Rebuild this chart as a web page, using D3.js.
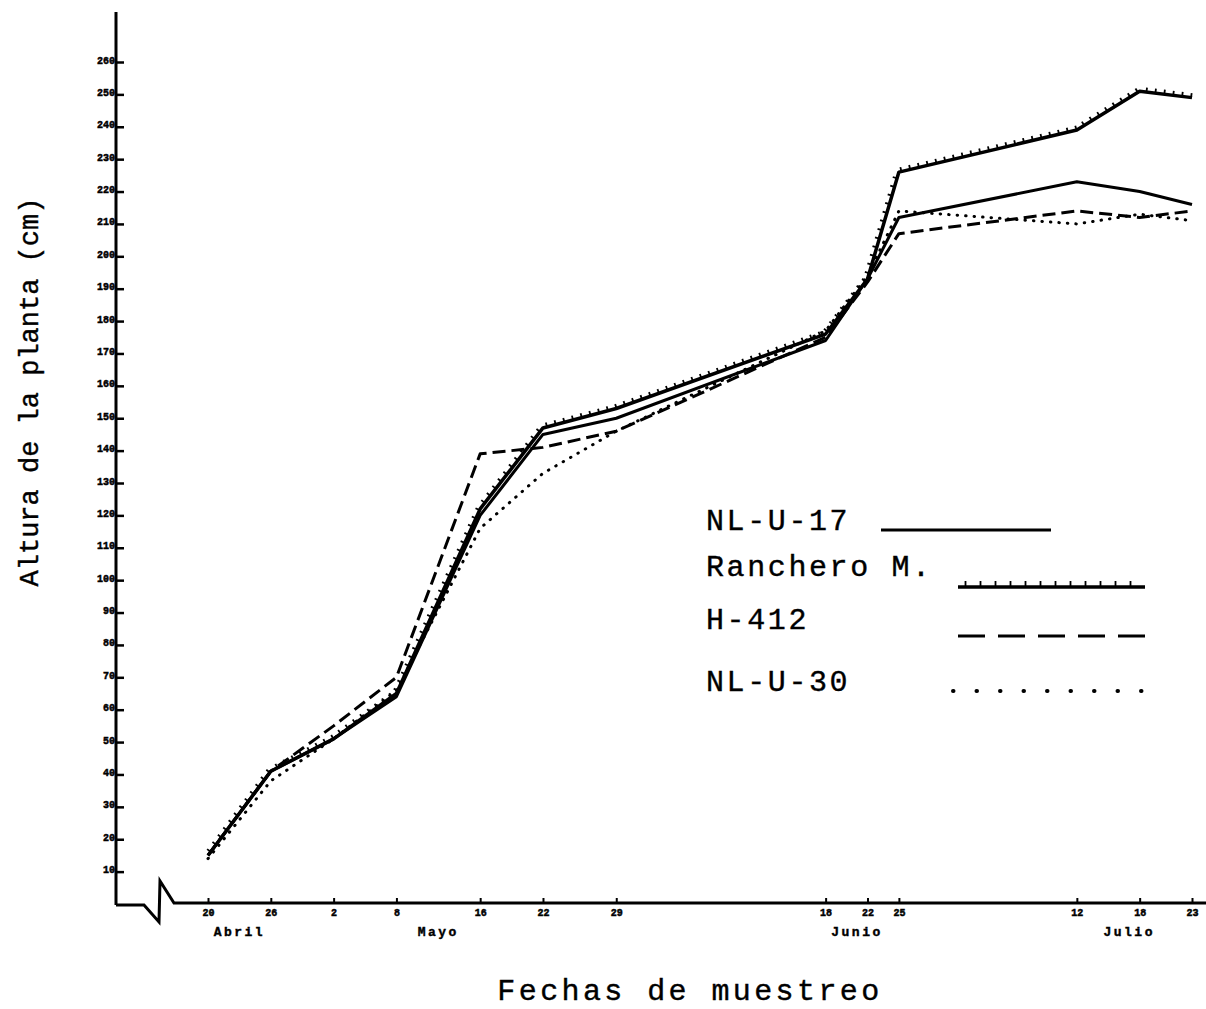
<!DOCTYPE html>
<html>
<head>
<meta charset="utf-8">
<script src="https://cdn.jsdelivr.net/npm/d3@7"></script>
<style>
  body { margin: 0; background: #fff; }
  svg { display: block; }
  text { font-family: "Liberation Mono", "DejaVu Sans Mono", monospace; fill: #000; }
</style>
</head>
<body>
<svg id="chart" width="1206" height="1009"></svg>
<script>
// fechas de muestreo
const sampleDates = ["1986-04-20", "1986-04-26", "1986-05-02", "1986-05-08", "1986-05-16", "1986-05-22",
  "1986-05-29", "1986-06-18", "1986-06-22", "1986-06-25", "1986-07-12", "1986-07-18", "1986-07-23"];

// altura de la planta (cm)
const nlu17    = [15, 41, 51, 64, 120, 145, 150, 174, 193, 212, 223, 220, 216];
const ranchero = [15, 41, 51, 65, 122, 147, 153, 176, 193, 226, 239, 251, 249];
const h412     = [15, 41, 55, 70, 139, 141, 146, 175, 192, 207, 214, 212, 214];
const nlu30    = [14, 38, 51, 66, 116, 133, 146, 177, 194, 214, 210, 213, 211];

const seriesNames = ["NL-U-17", "Ranchero M.", "H-412", "NL-U-30"];
const seriesValues = [nlu17, ranchero, h412, nlu30];

const yTicks = [10, 20, 30, 40, 50, 60, 70, 80, 90, 100, 110, 120, 130,
  140, 150, 160, 170, 180, 190, 200, 210, 220, 230, 240, 250, 260];

const monthNames = ["Abril", "Mayo", "Junio", "Julio"];
const monthCenters = ["1986-04-23", "1986-05-12", "1986-06-21", "1986-07-17"];

const parse = d3.timeParse("%Y-%m-%d");
const dates = sampleDates.map(parse);

const svg = d3.select("#chart");

const x0 = 116, y0 = 905;
const x = d3.scaleTime().domain(d3.extent(dates)).range([208, 1192]);
const y = d3.scaleLinear().domain([0, 260]).range([904, 62]);

// ejes
svg.append("line")
    .attr("x1", x0).attr("x2", x0)
    .attr("y1", 12).attr("y2", y0)
    .attr("stroke", "#000").attr("stroke-width", 3);

// eje x con corte
const brk = [[x0, y0], [x0 + 28, y0], [x0 + 43, y0 + 17], [x0 + 44, y0 - 24], [x0 + 58, y0 - 2], [1206, y0 - 2]];
svg.append("path")
    .attr("d", d3.line()(brk))
    .attr("fill", "none")
    .attr("stroke", "#000")
    .attr("stroke-width", 3)
    .attr("stroke-linejoin", "miter");

const yAxis = d3.axisLeft(y)
    .tickValues(yTicks)
    .tickSizeInner(-8)
    .tickSizeOuter(0)
    .tickPadding(1);

const gy = svg.append("g")
    .attr("transform", `translate(${x0},0)`)
    .attr("font-family", "DejaVu Sans Mono")
    .attr("font-size", 11.5)
    .attr("font-weight", "bold")
    .call(yAxis);
gy.select(".domain").remove();
gy.selectAll(".tick line").attr("stroke", "#000").attr("stroke-width", 2.5);
gy.selectAll(".tick text").attr("dy", "0.1em").attr("stroke", "#000").attr("stroke-width", 0.5);

const xAxis = d3.axisBottom(x)
    .tickValues(dates)
    .tickFormat(d3.timeFormat("%-d"))
    .tickSizeInner(-6)
    .tickSizeOuter(0)
    .tickPadding(5);

const gx = svg.append("g")
    .attr("transform", `translate(0,${y0 - 1})`)
    .attr("font-family", "DejaVu Sans Mono")
    .attr("font-size", 13)
    .attr("font-weight", "bold")
    .call(xAxis);
gx.select(".domain").remove();
gx.selectAll(".tick line").attr("stroke", "#000").attr("stroke-width", 2);
gx.selectAll(".tick text").attr("stroke", "#000").attr("stroke-width", 0.5);

svg.append("g")
    .selectAll("text")
    .data(monthNames)
    .enter()
    .append("text")
    .attr("x", (d, i) => x(parse(monthCenters[i])))
    .attr("y", 936)
    .attr("text-anchor", "middle")
    .attr("font-family", "DejaVu Sans Mono")
    .attr("font-size", 13)
    .attr("font-weight", "bold")
    .attr("letter-spacing", 2.5)
    .attr("stroke", "#000")
    .attr("stroke-width", 0.4)
    .text(d => d);

// títulos
svg.append("text")
    .attr("transform", "translate(38,392) rotate(-90)")
    .attr("text-anchor", "middle")
    .attr("font-size", 27)
    .attr("stroke", "#000")
    .attr("stroke-width", 0.4)
    .text("Altura de la planta (cm)");

svg.append("text")
    .attr("x", 690)
    .attr("y", 1000)
    .attr("text-anchor", "middle")
    .attr("font-size", 30)
    .attr("letter-spacing", 3.4)
    .attr("stroke", "#000")
    .attr("stroke-width", 0.4)
    .text("Fechas de muestreo");

// estilos de linea
const styles = {
    "NL-U-17": { width: 3, dash: null, cap: "butt" },
    "Ranchero M.": { width: 3.5, dash: null, cap: "butt", teeth: true },
    "H-412": { width: 3, dash: "13,6", cap: "butt" },
    "NL-U-30": { width: 3, dash: "0.5,8", cap: "round" },
};

function addTeeth(g, node, step, len) {
    const L = node.getTotalLength();
    const segs = [];
    for (let s = step / 2; s < L; s += step) {
        const a = node.getPointAtLength(Math.max(0, s - 0.5));
        const b = node.getPointAtLength(Math.min(L, s + 0.5));
        const p = node.getPointAtLength(s);
        let tx = b.x - a.x, ty = b.y - a.y;
        const n = Math.hypot(tx, ty) || 1;
        tx /= n; ty /= n;
        segs.push([p.x, p.y, p.x + ty * len, p.y - tx * len]);
    }
    g.selectAll(null)
        .data(segs)
        .enter()
        .append("line")
        .attr("x1", d => d[0]).attr("y1", d => d[1])
        .attr("x2", d => d[2]).attr("y2", d => d[3])
        .attr("stroke", "#000")
        .attr("stroke-width", 1.8);
}

function styled(sel, name) {
    const s = styles[name];
    sel.attr("fill", "none")
        .attr("stroke", "#000")
        .attr("stroke-width", s.width)
        .attr("stroke-linejoin", "round")
        .attr("stroke-linecap", s.cap);
    if (s.dash) sel.attr("stroke-dasharray", s.dash);
    return sel;
}

const line = d3.line()
    .x((d, i) => x(dates[i]))
    .y(d => y(d));

const order = [3, 2, 0, 1];
const gLines = svg.append("g");
order.forEach(k => {
    const name = seriesNames[k];
    const g = gLines.append("g");
    const p = styled(g.append("path").attr("d", line(seriesValues[k])), name);
    if (styles[name].teeth) addTeeth(g, p.node(), 9, 4.5);
});

// leyenda
const legendRows = [
    { ty: 530, x1: 881, x2: 1051, ly: 530 },
    { ty: 576, x1: 958, x2: 1145, ly: 587 },
    { ty: 629, x1: 958, x2: 1148, ly: 636 },
    { ty: 691, x1: 953, x2: 1163, ly: 691 },
];
const legendStyles = {
    "H-412": "27,13",
    "NL-U-30": "0.5,23",
};

const gLeg = svg.append("g");
seriesNames.forEach((name, i) => {
    const r = legendRows[i];
    gLeg.append("text")
        .attr("x", 706)
        .attr("y", r.ty)
        .attr("font-size", 30)
        .attr("letter-spacing", 2.6)
        .attr("stroke", "#000")
        .attr("stroke-width", 0.4)
        .text(name);
    const g = gLeg.append("g");
    const p = styled(g.append("path").attr("d", d3.line()([[r.x1, r.ly], [r.x2, r.ly]])), name);
    if (legendStyles[name]) p.attr("stroke-dasharray", legendStyles[name]);
    if (name === "NL-U-30") p.attr("stroke-width", 4);
    if (styles[name].teeth) addTeeth(g, p.node(), 15, 6);
});
</script>
</body>
</html>
